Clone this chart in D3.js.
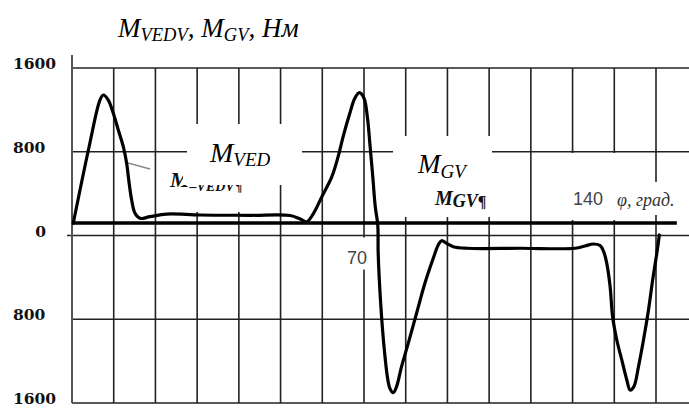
<!DOCTYPE html>
<html>
<head>
<meta charset="utf-8">
<script src="https://cdn.jsdelivr.net/npm/d3@7"></script>
<style>
  html, body { margin: 0; padding: 0; background: #fff; }
  svg { display: block; }
</style>
</head>
<body>
<script>
// Crank angle, degrees
const phi = [0.3, 4.1, 6.7, 7.5, 8.7, 9.9, 11.1, 12.3, 13.1, 13.7,
  14.3, 15.1, 16.3, 18.7, 22.7, 30.7, 42.7, 52.3, 54.7, 56.3,
  57.9, 59.9, 62.3, 63.8, 65.0, 66.6, 67.8, 68.9, 70.0, 70.8,
  71.4, 72.1, 72.7, 73.3, 73.4, 74.0, 74.8, 75.6, 76.2, 77.0,
  77.8, 79.0, 80.6, 82.6, 84.6, 86.6, 87.8, 88.6, 89.8, 91.4,
  94.6, 107.4, 120.6, 123.0, 125.0, 126.6, 127.5, 128.2, 129.0, 129.6,
  130.6, 131.8, 133.0, 133.8, 134.7, 135.8, 137.0, 138.2, 139.2, 140.2,
  140.8];

// Torque M_VED / M_GV, N·m
const moment = [117, 848, 1294, 1342, 1294, 1167, 1008, 848, 690, 499,
  339, 212, 164, 180, 205, 196, 193, 191, 158, 132,
  212, 371, 562, 753, 944, 1167, 1311, 1364, 1311, 1135,
  881, 562, 275, 100, -170, -648, -1062, -1349, -1460, -1502,
  -1444, -1253, -1030, -743, -457, -218, -91, -50, -75, -107,
  -122, -122, -122, -100, -81, -96, -158, -266, -489, -776,
  -998, -1189, -1380, -1476, -1444, -1253, -998, -712, -425, -170,
  5];

const phiGrid = [0, 10, 20, 30, 40, 50, 60, 70, 80, 90, 100, 110, 120, 130, 140];
const momentGrid = [1600, 800, 0, -800, -1600];
const momentLabels = ["1600", "800", "0", "800", "1600"];
const phiAxisLevel = 120;   // level of the bold φ axis the curve starts from
const phiAxisEnd = 145;

const W = 689, H = 408;
const svg = d3.select("body").append("svg")
  .attr("width", W).attr("height", H);

const x = d3.scaleLinear().domain([0, 140]).range([72, 656]);
const y = d3.scaleLinear().domain([-1600, 1600]).range([403, 68]);

// ---- grid ----
const grid = svg.append("g").attr("stroke", "#222").attr("stroke-width", 1.6);
grid.selectAll("line.h").data(momentGrid).join("line")
  .attr("class", "h")
  .attr("x1", d => d === 0 ? x(0) - 5 : x(0)).attr("x2", W)
  .attr("y1", d => y(d)).attr("y2", d => y(d));
grid.selectAll("line.v").data(phiGrid.slice(1)).join("line")
  .attr("class", "v")
  .attr("x1", d => x(d)).attr("x2", d => x(d))
  .attr("y1", y(1600)).attr("y2", y(-1600));

// left vertical axis
svg.append("line")
  .attr("x1", x(0)).attr("x2", x(0))
  .attr("y1", y(1600) - 13).attr("y2", y(-1600))
  .attr("stroke", "#555").attr("stroke-width", 2);

// ---- value labels on the left ----
svg.append("g").selectAll("text").data(momentGrid).join("text")
  .attr("x", (d, i) => momentLabels[i].length > 1 ? 13 : 46)
  .attr("text-anchor", (d, i) => momentLabels[i].length > 1 ? "start" : "end")
  .attr("y", d => y(d) + 1)
  .attr("font-family", "'DejaVu Serif', serif")
  .attr("font-weight", "bold")
  .attr("font-size", 15.5)
  .attr("fill", "#111")
  .text((d, i) => momentLabels[i]);

// ---- white backgrounds behind the annotations ----
const boxes = [
  [187, 124, 115, 61],
  [160, 185, 116, 27],
  [393, 136, 99, 56],
  [402, 192, 90, 25],
  [560, 153, 80, 67],
  [640, 182, 49, 33],
  [x(70) - 20, y(0) + 2, 27, 32]
];
svg.append("g").selectAll("rect").data(boxes).join("rect")
  .attr("x", d => d[0]).attr("y", d => d[1])
  .attr("width", d => d[2]).attr("height", d => d[3])
  .attr("fill", "#fff");

// ---- overprinted bold captions ----
const serif = "'Liberation Serif', 'Times New Roman', serif";
const cap1 = svg.append("text")
  .attr("x", 170).attr("y", 187)
  .attr("font-family", serif).attr("font-weight", "bold")
  .attr("font-style", "italic").attr("fill", "#111");
cap1.append("tspan").attr("font-size", 22).text("M");
cap1.append("tspan").attr("font-size", 14).attr("dy", 4).text("–VEDV");
cap1.append("tspan").attr("font-size", 14).attr("font-style", "normal").text("¶");
svg.append("rect").attr("x", 183).attr("y", 160).attr("width", 100).attr("height", 25)
  .attr("fill", "#fff");

const cap2 = svg.append("text")
  .attr("x", 435).attr("y", 205)
  .attr("font-family", serif).attr("font-weight", "bold")
  .attr("font-style", "italic").attr("fill", "#111");
cap2.append("tspan").attr("font-size", 20).text("M");
cap2.append("tspan").attr("font-size", 18).attr("dy", 2).text("GV");
cap2.append("tspan").attr("font-size", 16).attr("font-style", "normal").text("¶");

// ---- series captions ----
function subLabel(px, py, main, sub, size, subSize, dy) {
  const t = svg.append("text")
    .attr("x", px).attr("y", py)
    .attr("font-family", serif).attr("font-style", "italic").attr("fill", "#000");
  t.append("tspan").attr("font-size", size).text(main);
  t.append("tspan").attr("font-size", subSize).attr("dy", dy).text(sub);
  return t;
}
subLabel(210, 162, "M", "VED", 28, 19, 4);
subLabel(418, 173, "M", "GV", 27, 19, 5);

// ---- title ----
const title = svg.append("text")
  .attr("x", 118).attr("y", 37)
  .attr("font-family", serif).attr("font-style", "italic").attr("fill", "#000");
title.append("tspan").attr("font-size", 27).text("M");
title.append("tspan").attr("font-size", 18.5).attr("dy", 4).text("VEDV");
title.append("tspan").attr("font-size", 27).attr("dy", -4).text(", M");
title.append("tspan").attr("font-size", 18.5).attr("dy", 4).text("GV");
title.append("tspan").attr("font-size", 27).attr("dy", -4).text(", Нм");

// ---- φ axis labels ----
svg.append("text")
  .attr("x", x(70) - 7).attr("y", y(0) + 28)
  .attr("text-anchor", "middle")
  .attr("font-family", "'Liberation Sans', Arial, sans-serif")
  .attr("font-size", 18).attr("fill", "#444")
  .text("70");
svg.append("text")
  .attr("x", x(140) - 83).attr("y", 205)
  .attr("font-family", "'Liberation Sans', Arial, sans-serif")
  .attr("font-size", 18).attr("fill", "#444")
  .text("140");
svg.append("text")
  .attr("x", x(140) - 39).attr("y", 206)
  .attr("font-family", serif).attr("font-style", "italic")
  .attr("font-size", 18).attr("fill", "#333")
  .text("φ, град.");

// leader from the curve to its caption
svg.append("line")
  .attr("x1", 128).attr("y1", 163).attr("x2", 150).attr("y2", 169)
  .attr("stroke", "#888").attr("stroke-width", 1.3);

// ---- bold φ axis ----
svg.append("line")
  .attr("x1", x(0)).attr("x2", x(phiAxisEnd))
  .attr("y1", y(phiAxisLevel)).attr("y2", y(phiAxisLevel))
  .attr("stroke", "#000").attr("stroke-width", 3.5);

// ---- torque curve ----
const pts = phi.map((p, i) => [p, moment[i]]);
svg.append("path")
  .datum(pts)
  .attr("fill", "none")
  .attr("stroke", "#000")
  .attr("stroke-width", 3.2)
  .attr("stroke-linejoin", "round")
  .attr("stroke-linecap", "round")
  .attr("d", d3.line()
    .x(d => x(d[0]))
    .y(d => y(d[1]))
    .curve(d3.curveCatmullRom.alpha(0.5)));
</script>
</body>
</html>
